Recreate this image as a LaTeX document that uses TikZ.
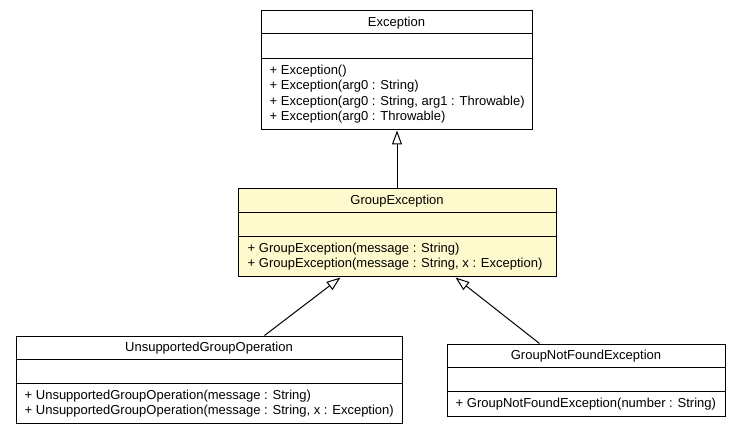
\documentclass[tikz,border=0pt]{standalone}
\usepackage{fontspec}
\setmainfont{Liberation Sans}
\usetikzlibrary{arrows.meta,calc}
\definecolor{classfill}{HTML}{FFFACD}
\tikzset{
  classbox/.style={draw=black, line width=1pt, rectangle, inner sep=0pt, fill=white},
  hlclass/.style={classbox, fill=classfill},
  divider/.style={draw=black, line width=1pt},
  titletext/.style={inner sep=0pt, font=\fontsize{13pt}{15pt}\selectfont},
  memtext/.style={inner sep=0pt, anchor=west, font=\fontsize{13pt}{15pt}\selectfont},
  inh/.style={draw=black, line width=1pt, -{Triangle[open, length=14pt, width=10pt, fill=white]}}
}
\begin{document}
\begin{tikzpicture}[x=1pt, y=-1pt]
\useasboundingbox[fill=white] (0,0) rectangle (741,435);

% Exception
\node[classbox, minimum width=271pt, minimum height=119pt] (exc) at (396.5,70.5) {};
\draw[divider] ($(exc.north west)+(0,23.5)$) -- ($(exc.north east)+(0,23.5)$);
\draw[divider] ($(exc.north west)+(0,48)$) -- ($(exc.north east)+(0,48)$);
\node[titletext] (exc-t) at ($(exc.north)+(0,12.5)$) {Exception};
\node[memtext] (exc-m1) at ($(exc.north west)+(9,60.5)$) {+ Exception()};
\node[memtext] (exc-m2) at ($(exc.north west)+(9,76)$) {+ Exception(arg0 : String)};
\node[memtext] (exc-m3) at ($(exc.north west)+(9,91.5)$) {+ Exception(arg0 : String, arg1 : Throwable)};
\node[memtext] (exc-m4) at ($(exc.north west)+(9,107)$) {+ Exception(arg0 : Throwable)};

% GroupException
\node[hlclass, minimum width=318pt, minimum height=88pt] (grp) at (397,233) {};
\draw[divider] ($(grp.north west)+(0,24)$) -- ($(grp.north east)+(0,24)$);
\draw[divider] ($(grp.north west)+(0,48)$) -- ($(grp.north east)+(0,48)$);
\node[titletext] (grp-t) at ($(grp.north)+(0,13)$) {GroupException};
\node[memtext] (grp-m1) at ($(grp.north west)+(10,60.5)$) {+ GroupException(message : String)};
\node[memtext] (grp-m2) at ($(grp.north west)+(10,76)$) {+ GroupException(message : String, x : Exception)};

% UnsupportedGroupOperation
\node[classbox, minimum width=386pt, minimum height=87pt] (uns) at (209,379.5) {};
\draw[divider] ($(uns.north west)+(0,23.5)$) -- ($(uns.north east)+(0,23.5)$);
\draw[divider] ($(uns.north west)+(0,48)$) -- ($(uns.north east)+(0,48)$);
\node[titletext] (uns-t) at ($(uns.north)+(0,12.5)$) {UnsupportedGroupOperation};
\node[memtext] (uns-m1) at ($(uns.north west)+(9,60.5)$) {+ UnsupportedGroupOperation(message : String)};
\node[memtext] (uns-m2) at ($(uns.north west)+(9,76)$) {+ UnsupportedGroupOperation(message : String, x : Exception)};

% GroupNotFoundException
\node[classbox, minimum width=278pt, minimum height=72pt] (gnf) at (586,380) {};
\draw[divider] ($(gnf.north west)+(0,24)$) -- ($(gnf.north east)+(0,24)$);
\draw[divider] ($(gnf.north west)+(0,48)$) -- ($(gnf.north east)+(0,48)$);
\node[titletext] (gnf-t) at ($(gnf.north)+(0,13)$) {GroupNotFoundException};
\node[memtext] (gnf-m1) at ($(gnf.north west)+(9,60.5)$) {+ GroupNotFoundException(number : String)};

% connectors
\draw[inh] (grp.north) -- (grp.north |- exc.south);
\coordinate (uns-a) at ($(uns.north west)+(249,0)$);
\coordinate (grp-a) at ($(grp.south west)+(103,0)$);
\draw[inh] (uns-a) -- (grp-a);
\coordinate (gnf-a) at ($(gnf.north west)+(93,0)$);
\coordinate (grp-b) at ($(grp.south west)+(218,0)$);
\draw[inh] (gnf-a) -- (grp-b);
\end{tikzpicture}
\end{document}
